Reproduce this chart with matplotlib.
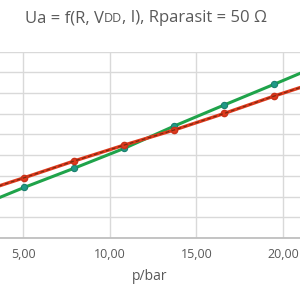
import matplotlib
matplotlib.use("Agg")
import matplotlib.pyplot as plt

# data (x = pressure in bar, y in grid units)
p_bar = [2.17, 5.06, 7.95, 10.84, 13.73, 16.62, 19.50, 22.39]
ua_red = [2.12, 2.91, 3.72, 4.49, 5.22, 6.02, 6.86, 7.65]
ua_green = [1.45, 2.44, 3.37, 4.33, 5.41, 6.43, 7.43, 8.45]
x_ticks = [5, 10, 15, 20]
x_tick_labels = ["5,00", "10,00", "15,00", "20,00"]
title_parts = [("Ua = f(R, V", 12), ("DD", 9), (", I), Rparasit = 50 Ω", 12)]

fig = plt.figure(figsize=(3, 3), dpi=100)
x_lo, x_hi = 3.67, 20.98
ax = fig.add_axes([0.0, 0.2067, 1.0, 0.621])
ax.set_xlim(x_lo, x_hi)
ax.set_ylim(0, 9)

ax.set_xticks(x_ticks)
ax.set_xticklabels(x_tick_labels)
ax.set_yticks(range(0, 10))
ax.tick_params(axis="y", left=False, labelleft=False)
ax.tick_params(axis="x", length=0, pad=7, labelsize=9, labelcolor="#595959")
for lab in ax.get_xticklabels():
    lab.set_fontfamily("Open Sans")
ax.grid(True, color="#d9d9d9", linewidth=1.0)
ax.set_axisbelow(True)
for s in ["top", "left", "right"]:
    ax.spines[s].set_visible(False)
ax.spines["bottom"].set_color("#bfbfbf")
ax.spines["bottom"].set_linewidth(1.3)

ax.plot(p_bar, ua_green, color="#1fa34a", linewidth=2.2, marker="o",
        markersize=4.5, markerfacecolor="#1f9a86", markeredgecolor="#1b7f6e",
        markeredgewidth=0.8, zorder=3)
ax.plot(p_bar, ua_red, color="#e0391c", linewidth=2.4, marker="o",
        markersize=4.5, markerfacecolor="#e0391c", markeredgecolor="#c8321a",
        zorder=4)
ax.plot(p_bar, ua_red, color="#7a2a10", linewidth=0.9, linestyle=(0, (3, 2)),
        zorder=5)

ax.set_xlabel("p/bar", fontsize=10, color="#595959", family="Open Sans", labelpad=6)

# title built from pieces on a common baseline (small caps DD)
renderer = fig.canvas.get_renderer()
x_px = 25.0
y_fig = 0.925
for txt, fs in title_parts:
    t = fig.text(x_px / 300.0, y_fig, txt, fontsize=fs, color="#595959",
                 family="Open Sans", va="baseline", ha="left")
    bb = t.get_window_extent(renderer=renderer)
    x_px = bb.x1

fig.savefig("out.png", dpi=100)
